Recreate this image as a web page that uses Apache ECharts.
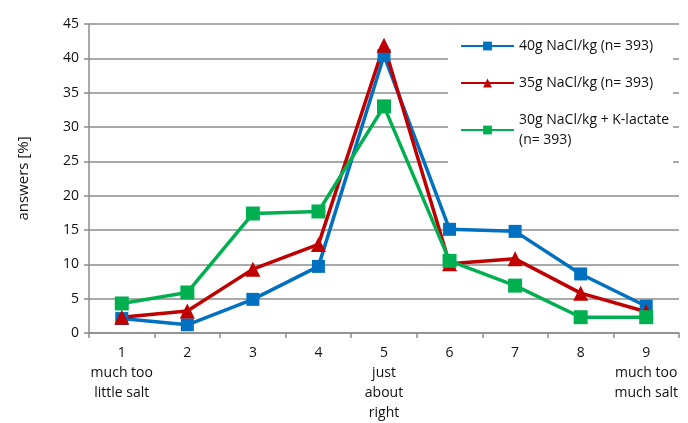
<!DOCTYPE html>
<html>
<head>
<meta charset="utf-8">
<script src="https://cdn.jsdelivr.net/npm/echarts@6/dist/echarts.min.js"></script>
<style>
  html, body { margin: 0; padding: 0; background: #fff; }
  #chart { width: 688px; height: 423px; }
</style>
</head>
<body>
<div id="chart"></div>
<script>
// Salt perception scale, 1 = much too little salt ... 9 = much too much salt
const categories = [
  '1\nmuch too\nlittle salt', '2', '3', '4', '5\njust\nabout\nright',
  '6', '7', '8', '9\nmuch too\nmuch salt'
];
const seriesNames = [
  '40g NaCl/kg (n= 393)',
  '35g NaCl/kg (n= 393)',
  '30g NaCl/kg + K-lactate\n(n= 393)'
];
const salt40 = [2.1, 1.2, 4.9, 9.7, 40.4, 15.1, 14.8, 8.6, 3.9];
const salt35 = [2.3, 3.2, 9.3, 12.9, 41.9, 10.1, 10.8, 5.8, 3.1];
const salt30K = [4.3, 5.9, 17.4, 17.7, 33.0, 10.5, 6.9, 2.3, 2.3];
const yTicks = { min: 0, max: 45, step: 5 };

const font = 'Open Sans';
const textColor = '#111111';
const gridColor = '#8c8c8c';
const colors = ['#0070c0', '#c00000', '#00b050'];

function lineSeries(name, data, color, symbol, size) {
  return {
    name: name,
    type: 'line',
    data: data,
    symbol: symbol,
    symbolSize: size,
    itemStyle: { color: color },
    lineStyle: { color: color, width: 3.5 },
    emphasis: { disabled: true }
  };
}

const chart = echarts.init(document.getElementById('chart'));
chart.setOption({
  animation: false,
  textStyle: { fontFamily: font },
  grid: { left: 89, right: 9, top: 24, bottom: 82 },
  legend: {
    orient: 'vertical',
    left: 448,
    top: 33,
    width: 231,
    padding: [3, 4, 20, 12],
    backgroundColor: '#ffffff',
    itemWidth: 53,
    itemHeight: 11,
    itemGap: 17,
    textStyle: { fontFamily: font, fontSize: 14, color: textColor, lineHeight: 20 },
    data: seriesNames
  },
  xAxis: {
    type: 'category',
    data: categories,
    boundaryGap: true,
    axisLine: { lineStyle: { color: gridColor, width: 1.5 } },
    axisTick: { show: true, length: 5, lineStyle: { color: gridColor, width: 1.5 } },
    axisLabel: { fontFamily: font, fontSize: 14, color: textColor, lineHeight: 20, margin: 10, interval: 0 }
  },
  yAxis: {
    type: 'value',
    min: yTicks.min,
    max: yTicks.max,
    interval: yTicks.step,
    name: 'answers [%]',
    nameLocation: 'middle',
    nameGap: 58,
    nameRotate: 90,
    nameTextStyle: { fontFamily: font, fontSize: 15, color: textColor },
    axisLine: { show: true, lineStyle: { color: gridColor, width: 1.5 } },
    axisTick: { show: true, length: 5, lineStyle: { color: gridColor, width: 1.5 } },
    splitLine: { lineStyle: { color: gridColor, width: 1.5 } },
    axisLabel: { fontFamily: font, fontSize: 14, color: textColor, margin: 10 }
  },
  series: [
    lineSeries(seriesNames[0], salt40, colors[0], 'rect', 13),
    lineSeries(seriesNames[1], salt35, colors[1], 'triangle', 15),
    lineSeries(seriesNames[2], salt30K, colors[2], 'rect', 14)
  ]
});
</script>
</body>
</html>
